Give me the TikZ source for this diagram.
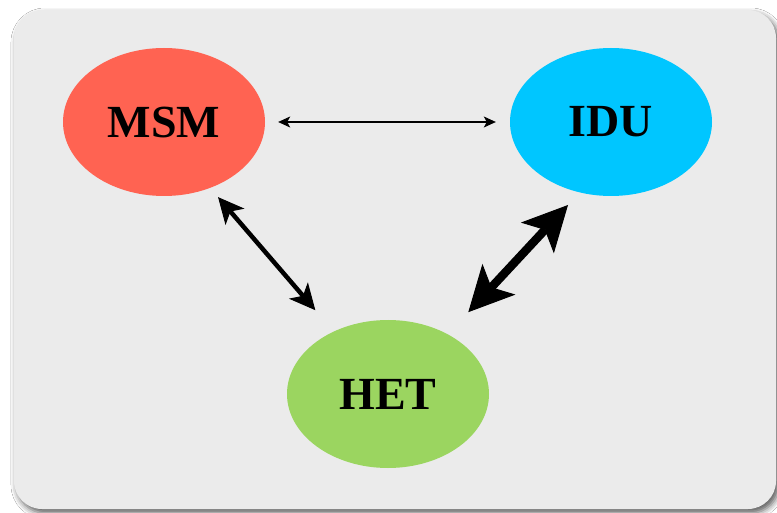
\documentclass[tikz,border=0pt]{standalone}
\usepackage{fontspec}
\setmainfont{Liberation Serif}
\usetikzlibrary{shapes.geometric,arrows.meta,shadows.blur}
\definecolor{panel}{HTML}{EBEBEB}
\definecolor{msmc}{HTML}{FF6352}
\definecolor{iduc}{HTML}{00C6FF}
\definecolor{hetc}{HTML}{9BD560}
\tikzset{
  blob/.style={ellipse, minimum width=202pt, minimum height=148pt, inner sep=0pt,
    font=\fontsize{46}{50}\selectfont\bfseries, text=black},
  thinlink/.style={draw=black, line width=1.6pt, {Stealth[length=12pt,width=11pt,inset=3pt,line width=0.8pt,fill=black]}-{Stealth[length=12pt,width=11pt,inset=3pt,line width=0.8pt,fill=black]}},
  midlink/.style={draw=black, line width=4.5pt, {Stealth[length=26pt,width=25pt,inset=7pt,line width=1pt,fill=black]}-{Stealth[length=26pt,width=25pt,inset=7pt,line width=1pt,fill=black]}},
  thicklink/.style={draw=black, line width=8.5pt, {Stealth[length=45pt,width=45pt,inset=11pt,line width=1pt,fill=black]}-{Stealth[length=45pt,width=45pt,inset=11pt,line width=1pt,fill=black]}}
}
\begin{document}
\begin{tikzpicture}[x=1pt,y=-1pt]
\useasboundingbox (0,0) rectangle (777,513);
\fill[white] (0,0) rectangle (777,513);
\path[fill=panel, rounded corners=28pt,
  blur shadow={shadow xshift=3pt, shadow yshift=-4pt, shadow blur radius=6pt, shadow opacity=65}]
  (14,10) rectangle (776,509);
\node[blob, fill=msmc] (msm) at (164,122) {MSM};
\node[blob, fill=iduc] (idu) at (611,122) {IDU};
\node[blob, fill=hetc] (het) at (388,394) {HET};
\draw[thinlink, shorten <=13pt, shorten >=14pt] (msm.east) -- (idu.west);
\draw[midlink, shorten <=12pt, shorten >=28pt] (msm.-55) -- (het.131);
\draw[thicklink, shorten <=17pt, shorten >=30pt] (idu.-114.6) -- (het.45);
\end{tikzpicture}
\end{document}
